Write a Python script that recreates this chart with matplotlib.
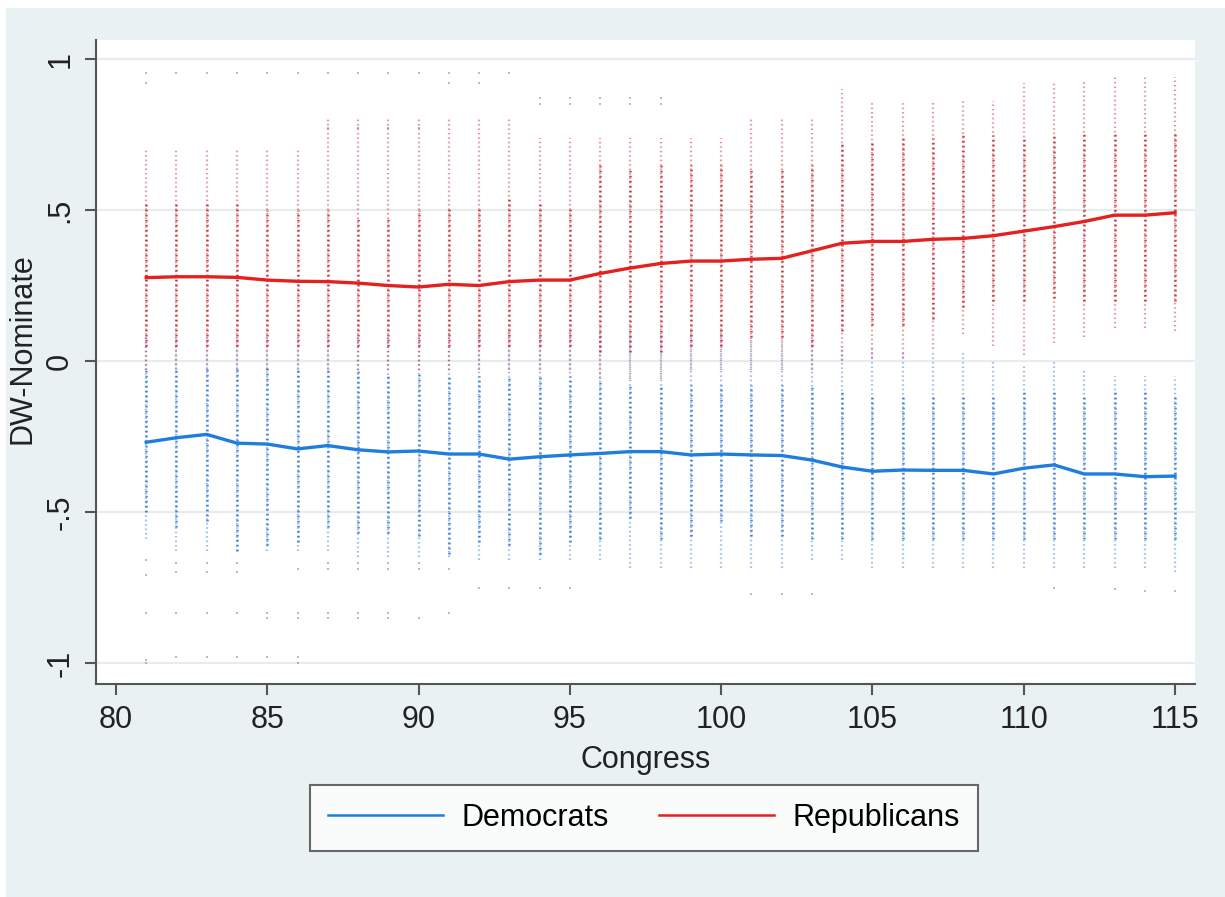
import matplotlib
matplotlib.use('Agg')
import matplotlib.pyplot as plt
from matplotlib.patches import Rectangle

plt.rcParams['font.family'] = ['Liberation Sans', 'DejaVu Sans']

#---------------------------- data ----------------------------
congress = list(range(81, 116))

# party means (the lines)
dem_mean = [-0.269, -0.254, -0.243, -0.272, -0.275, -0.291, -0.280, -0.294, -0.301, -0.298,
            -0.308, -0.308, -0.325, -0.317, -0.311, -0.306, -0.300, -0.300, -0.311, -0.308,
            -0.311, -0.313, -0.328, -0.351, -0.365, -0.361, -0.362, -0.362, -0.374, -0.355,
            -0.344, -0.374, -0.374, -0.383, -0.381]
rep_mean = [0.276, 0.279, 0.279, 0.277, 0.268, 0.264, 0.263, 0.258, 0.250, 0.245,
            0.254, 0.250, 0.263, 0.268, 0.268, 0.290, 0.308, 0.323, 0.331, 0.331,
            0.337, 0.340, 0.365, 0.390, 0.396, 0.396, 0.403, 0.406, 0.415, 0.430,
            0.445, 0.462, 0.483, 0.483, 0.491]

# spread of the members' scores per congress (sparse top, dense top, dense bottom, sparse bottom)
rep_top = [0.70, 0.70, 0.70, 0.70, 0.70, 0.70, 0.80, 0.80, 0.80, 0.80,
           0.80, 0.80, 0.80, 0.74, 0.74, 0.74, 0.74, 0.74, 0.74, 0.74,
           0.80, 0.80, 0.80, 0.90, 0.86, 0.86, 0.86, 0.86, 0.86, 0.92,
           0.92, 0.93, 0.94, 0.94, 0.94]
rep_core_hi = [0.52, 0.52, 0.53, 0.52, 0.50, 0.50, 0.50, 0.48, 0.48, 0.50,
               0.51, 0.51, 0.54, 0.53, 0.51, 0.65, 0.64, 0.65, 0.65, 0.65,
               0.64, 0.64, 0.65, 0.73, 0.73, 0.74, 0.74, 0.75, 0.75, 0.74,
               0.75, 0.755, 0.76, 0.76, 0.76]
rep_core_lo = [0.05, 0.05, 0.05, 0.05, 0.05, 0.05, 0.05, 0.05, 0.05, 0.05,
               0.05, 0.05, 0.05, 0.05, 0.05, 0.03, 0.03, 0.03, 0.05, 0.05,
               0.08, 0.08, 0.05, 0.10, 0.12, 0.12, 0.14, 0.18, 0.20, 0.20,
               0.21, 0.20, 0.20, 0.20, 0.20]
rep_bot = [-0.03, -0.03, -0.03, -0.03, -0.03, -0.03, -0.03, -0.03, -0.03, -0.03,
           -0.03, -0.03, -0.03, -0.03, -0.03, -0.06, -0.06, -0.06, -0.03, -0.03,
           -0.03, -0.03, -0.03, 0.00, 0.01, 0.01, 0.04, 0.09, 0.05, 0.02,
           0.06, 0.08, 0.11, 0.11, 0.10]

dem_top = [0.08, 0.08, 0.08, 0.08, 0.08, 0.08, 0.08, 0.08, 0.08, 0.08,
           0.10, 0.10, 0.10, 0.10, 0.10, 0.10, 0.10, 0.10, 0.10, 0.10,
           0.08, 0.08, 0.07, 0.05, 0.05, 0.03, 0.03, 0.03, 0.00, -0.01,
           0.00, -0.03, -0.05, -0.05, -0.05]
dem_core_hi = [-0.02, -0.02, -0.02, -0.02, -0.02, -0.03, -0.03, -0.03, -0.04, -0.04,
               -0.05, -0.05, -0.05, -0.05, -0.05, -0.06, -0.08, -0.08, -0.08, -0.08,
               -0.08, -0.08, -0.08, -0.10, -0.12, -0.12, -0.12, -0.12, -0.11, -0.10,
               -0.10, -0.11, -0.10, -0.10, -0.11]
dem_core_lo = [-0.50, -0.55, -0.53, -0.63, -0.61, -0.60, -0.55, -0.57, -0.57, -0.58,
               -0.64, -0.60, -0.61, -0.64, -0.60, -0.59, -0.52, -0.59, -0.58, -0.53,
               -0.58, -0.58, -0.59, -0.59, -0.59, -0.59, -0.59, -0.59, -0.59, -0.59,
               -0.59, -0.59, -0.59, -0.59, -0.59]
dem_bot = [-0.59, -0.63, -0.63, -0.63, -0.63, -0.63, -0.63, -0.65, -0.65, -0.65,
           -0.65, -0.66, -0.66, -0.66, -0.66, -0.66, -0.685, -0.685, -0.685, -0.685,
           -0.685, -0.685, -0.66, -0.66, -0.685, -0.685, -0.685, -0.685, -0.685, -0.685,
           -0.685, -0.685, -0.685, -0.685, -0.70]

# stray members far from the rest
rep_out_c = [81, 81, 82, 83, 84, 85, 86, 87, 88, 89, 90, 91, 92, 87, 88, 89, 90,
             91, 92, 93, 94, 94, 95, 95, 96, 96, 97, 97, 98, 98]
rep_out_v = [0.955, 0.92, 0.955, 0.955, 0.955, 0.955, 0.955, 0.955, 0.955, 0.955, 0.955, 0.955, 0.955,
             0.77, 0.77, 0.77, 0.77, 0.92, 0.92, 0.955, 0.87, 0.85, 0.87, 0.85, 0.87, 0.85,
             0.87, 0.85, 0.87, 0.85]
dem_out_c = [81, 81, 81, 81, 81, 82, 82, 82, 82, 83, 83, 83, 83, 84, 84, 84, 84,
             85, 85, 85, 86, 86, 86, 86, 86, 87, 87, 87, 87, 88, 88, 88, 88,
             89, 89, 89, 89, 90, 90, 90, 91, 91, 92, 93, 94, 95,
             101, 102, 103, 111, 113, 114, 115]
dem_out_v = [-0.66, -0.71, -0.835, -0.99, -1.0, -0.67, -0.70, -0.835, -0.98,
             -0.67, -0.70, -0.835, -0.98, -0.67, -0.70, -0.835, -0.98,
             -0.835, -0.85, -0.98, -0.69, -0.835, -0.85, -0.98, -1.0,
             -0.67, -0.69, -0.835, -0.85, -0.67, -0.69, -0.835, -0.85,
             -0.67, -0.69, -0.835, -0.85, -0.67, -0.69, -0.85, -0.69, -0.835,
             -0.75, -0.75, -0.75, -0.75, -0.77, -0.77, -0.77, -0.75, -0.755, -0.76, -0.76]

yticks = [-1, -0.5, 0, 0.5, 1]
ytick_labels = ['-1', '-.5', '0', '.5', '1']
xticks = [80, 85, 90, 95, 100, 105, 110, 115]

#---------------------------- styling ----------------------------
bg = '#EAF1F3'
blue = '#1F7DE0'
red = '#E3211F'
dot_blue = '#2A72D0'
dot_red = '#C4222C'
dots = (0, (0.7, 1.3))
fs = 22

fig = plt.figure(figsize=(12.25, 8.97), dpi=100)
fig.patch.set_facecolor('white')
fig.add_artist(Rectangle((6 / 1225, 0), 1, 1 - 8 / 897, transform=fig.transFigure,
                         facecolor=bg, edgecolor='none', zorder=0))

ax = fig.add_axes([96 / 1225, 1 - 684 / 897, (1195 - 96) / 1225, (684 - 40) / 897])
ax.set_facecolor('white')

# member scores drawn as dotted columns
ax.vlines(congress, dem_bot, dem_top, colors=dot_blue, linewidth=1.6, linestyles=dots, alpha=0.45)
ax.vlines(congress, dem_core_lo, dem_core_hi, colors=dot_blue, linewidth=1.8, linestyles=dots, alpha=0.85)
ax.vlines(congress, rep_bot, rep_top, colors=dot_red, linewidth=1.6, linestyles=dots, alpha=0.45)
ax.vlines(congress, rep_core_lo, rep_core_hi, colors=dot_red, linewidth=1.8, linestyles=dots, alpha=0.85)
ax.scatter(dem_out_c, dem_out_v, s=4, marker='s', color='#6A7A9A', alpha=0.5, linewidths=0)
ax.scatter(rep_out_c, rep_out_v, s=4, marker='s', color='#9A6A7A', alpha=0.5, linewidths=0)

# party means
ax.plot(congress, dem_mean, color=blue, linewidth=2.4, label='Democrats', zorder=5)
ax.plot(congress, rep_mean, color=red, linewidth=2.4, label='Republicans', zorder=5)

ax.set_xlim(79.34, 115.66)
ax.set_ylim(-1.0695, 1.063)
ax.set_yticks(yticks)
ax.set_yticklabels(ytick_labels, rotation=90, va='center')
ax.set_xticks(xticks)
ax.grid(axis='y', color='#E7EDEF', linewidth=1.6)
ax.set_axisbelow(True)

for side in ['top', 'right']:
    ax.spines[side].set_visible(False)
for side in ['left', 'bottom']:
    ax.spines[side].set_color('#555555')
    ax.spines[side].set_linewidth(1.5)
ax.tick_params(direction='out', length=8, width=1.5, color='#555555',
               labelsize=fs, labelcolor='#222222', pad=7)

ax.set_xlabel('Congress', fontsize=fs, color='#222222')
ax.set_ylabel('DW-Nominate', fontsize=fs, color='#222222')
ax.xaxis.set_label_coords(0.5, -0.095)
ax.yaxis.set_label_coords(-0.053, 0.52)

leg = fig.legend(loc='center', bbox_to_anchor=(644 / 1225, 1 - 818 / 897), ncol=2,
                 fontsize=fs, frameon=True, fancybox=False, handlelength=3.75,
                 handletextpad=0.6, columnspacing=1.65, borderpad=0.6)
leg.get_frame().set_edgecolor('#444444')
leg.get_frame().set_linewidth(1.5)
for line in leg.get_lines():
    line.set_linewidth(1.8)

fig.savefig('out.png', dpi=100, facecolor=fig.get_facecolor())
